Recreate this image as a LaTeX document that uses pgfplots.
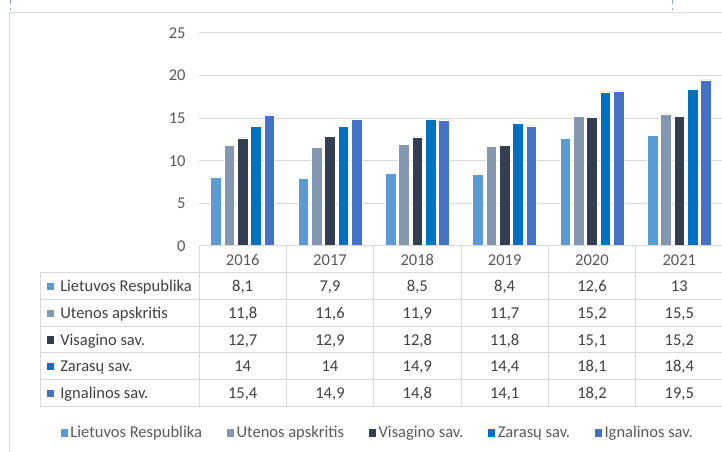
\documentclass[border=0pt]{standalone}
\usepackage{fontspec}
\setmainfont{Carlito}
\usepackage{pgfplots}
\usepackage{pgfplotstable}
\pgfplotsset{compat=1.18}

\definecolor{cLR}{HTML}{5B9BD5}
\definecolor{cUA}{HTML}{8497B0}
\definecolor{cVS}{HTML}{333F50}
\definecolor{cZS}{HTML}{0070C0}
\definecolor{cIS}{HTML}{4472C4}
\definecolor{gridc}{HTML}{D9D9D9}
\definecolor{txt}{HTML}{404040}
\definecolor{lbl}{HTML}{595959}

\newcommand\cf{\fontsize{12.4}{15}\selectfont}
\pgfkeys{/pgf/number format/.cd, use comma, assume math mode=true}

% x: 0 = 2016 ... 5 = 2021
\pgfplotstableread{
x  lr    ua    vs    zs    is
0  8.1   11.8  12.7  14    15.4
1  7.9   11.6  12.9  14    14.9
2  8.5   11.9  12.8  14.9  14.8
3  8.4   11.7  11.8  14.4  14.1
4  12.6  15.2  15.1  18.1  18.2
5  13    15.5  15.2  18.4  19.5
}\data

\begin{document}
\begin{tikzpicture}[x=0.75pt,y=0.75pt]
\path[use as bounding box] (0,0) rectangle (722,452);

\begin{axis}[
    at={(149.25pt,154.5pt)}, anchor=south west,
    scale only axis, width=393pt, height=159.75pt,
    xmin=-0.5, xmax=5.5, ymin=0, ymax=25,
    ybar=2.1pt, bar width=7.9pt,
    axis line style={draw=none},
    xtick=\empty,
    ytick={0,5,...,25},
    major tick length=0pt,
    ymajorgrids, grid style={gridc, line width=0.75pt},
    yticklabel style={font=\cf, text=lbl, xshift=-6.5pt},
    clip=false,
    legend columns=5,
    legend style={
        at={(axis description cs:0.3416,-0.878)}, anchor=center,
        draw=none, fill=none, font=\cf, text=lbl,
        /tikz/every even column/.append style={column sep=16.5pt},
    },
    legend image code/.code={\fill[#1,draw=none] (0pt,-2.7pt) rectangle (5.4pt,2.7pt);},
]
\addplot[fill=cLR, draw=white, line width=0.4pt] table[x=x, y=lr] {\data};
\addlegendentry{Lietuvos Respublika}
\addplot[fill=cUA, draw=white, line width=0.4pt] table[x=x, y=ua] {\data};
\addlegendentry{Utenos apskritis}
\addplot[fill=cVS, draw=white, line width=0.4pt] table[x=x, y=vs] {\data};
\addlegendentry{Visagino sav.}
\addplot[fill=cZS, draw=white, line width=0.4pt] table[x=x, y=zs] {\data};
\addlegendentry{Zarasų sav.}
\addplot[fill=cIS, draw=white, line width=0.4pt] table[x=x, y=is] {\data};
\addlegendentry{Ignalinos sav.}
\end{axis}

% data table under the chart (pixel coordinates, y downwards)
\begin{scope}[shift={(0,452)}, yscale=-1]
  \draw[gridc, line width=0.75pt] (9,460) -- (9,13) -- (730,13);
  \draw[cIS!60, dashed, line width=0.75pt] (10.5,0) -- (10.5,10);
  \draw[cIS!60, dashed, line width=0.75pt] (672,0) -- (672,10);

  \begin{scope}[gridc, line width=0.75pt]
    \draw (199,246) -- (723,246);
    \foreach \y in {273,300,327,353,380,407} \draw (40,\y) -- (723,\y);
    \draw (40,273) -- (40,407);
    \foreach \x in {199,286.3,373.7,461,548.3,635.7,723} \draw (\x,246) -- (\x,407);
  \end{scope}

  \foreach \c in {0,...,5}{
    \pgfmathsetmacro\xc{199+87.33*(\c+0.5)}
    \node[anchor=base, inner sep=0pt, text=lbl, font=\cf] at (\xc,266) {\number\numexpr2016+\c\relax};
  }

  \foreach \col/\name/\colr [count=\r from 0] in {lr/Lietuvos Respublika/cLR, ua/Utenos apskritis/cUA, vs/Visagino sav./cVS, zs/Zarasų sav./cZS, is/Ignalinos sav./cIS}{
    \pgfmathsetmacro\yc{286.5+26.75*\r}
    \fill[\colr] (47,\yc-3.6) rectangle (54,\yc+3.6);
    \node[anchor=base west, inner sep=0pt, text=txt, font=\cf] at (60,\yc+5.2) {\name};
    \foreach \c in {0,...,5}{
      \pgfmathsetmacro\xc{199+87.33*(\c+0.5)}
      \pgfplotstablegetelem{\c}{\col}\of\data
      \node[anchor=base, inner sep=0pt, text=txt, font=\cf] at (\xc,\yc+5.2) {\pgfmathprintnumber{\pgfplotsretval}};
    }
  }
\end{scope}
\end{tikzpicture}
\end{document}
